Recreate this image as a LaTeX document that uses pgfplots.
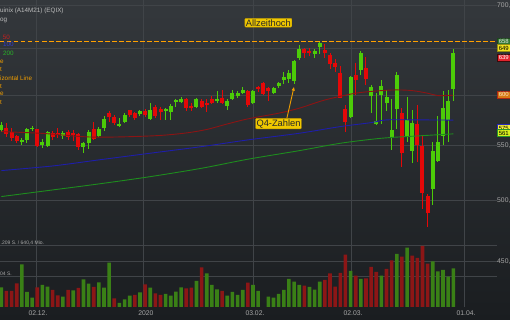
\documentclass[border=0pt]{standalone}
\usepackage{pgfplots}
\usepackage{pgfplotstable}
\pgfplotsset{compat=1.18}
\usetikzlibrary{arrows.meta}
\usepackage{fontspec}
\setmainfont{Liberation Sans}

\definecolor{bgtop}{RGB}{52,56,60}
\definecolor{bgbot}{RGB}{26,29,32}
\definecolor{gridc}{RGB}{64,68,72}
\definecolor{cup}{RGB}{76,204,8}
\definecolor{cdn}{RGB}{228,8,8}
\definecolor{vup}{RGB}{58,128,22}
\definecolor{vdn}{RGB}{140,22,22}
\definecolor{maA}{RGB}{140,20,20}
\definecolor{maB}{RGB}{30,30,170}
\definecolor{maC}{RGB}{30,140,30}
\definecolor{orng}{RGB}{240,158,0}
\definecolor{dashorng}{RGB}{255,160,0}
\definecolor{txtg}{RGB}{168,168,168}
\definecolor{lblyel}{RGB}{240,200,0}

\pgfplotstableread{
k o h l c
0 564.8 572.7 562.9 569.7
4 553.3 557.1 550.4 555.2
5 555.2 566.7 552.3 565.8
6 565.3 568.7 563.8 566.7
8 550.4 556.1 547.6 553.3
9 549.5 563.8 548.5 562.9
12 559.0 563.8 556.1 561.9
16 548.5 553.3 542.9 552.3
17 552.3 564.8 546.6 562.9
19 559.0 567.7 558.1 565.8
20 566.7 578.7 563.8 575.7
23 568.7 576.7 568.2 570.7
24 572.7 581.7 571.7 579.7
27 580.7 584.7 578.7 583.7
29 575.7 591.7 574.7 584.2
32 583.7 586.7 574.7 585.7
33 582.7 590.7 574.7 588.7
34 592.7 595.8 587.7 594.8
35 592.7 597.9 591.7 595.8
38 587.7 596.9 586.7 595.8
42 593.8 604.2 591.7 595.8
44 588.7 595.8 584.7 593.8
45 595.8 605.2 594.8 602.1
46 599.0 604.2 596.9 602.1
47 602.1 608.3 601.0 605.2
49 591.7 605.2 591.2 604.2
53 602.1 608.3 601.0 607.3
54 609.3 613.6 607.3 612.5
55 615.7 624.3 611.4 618.9
56 616.8 626.4 612.5 623.2
57 614.6 637.3 611.4 636.2
58 639.5 654.0 637.3 649.5
61 644.0 649.5 639.5 647.6
62 652.1 657.4 644.0 655.9
68 577.4 620.0 576.7 618.6
70 626.4 647.3 621.1 645.4
72 599.3 610.4 582.0 608.6
73 570.7 602.1 569.7 574.0
74 600.0 615.7 570.7 609.3
75 591.4 605.2 584.0 598.2
76 556.8 595.5 545.7 564.8
77 585.4 624.6 565.5 621.1
79 557.7 598.2 553.6 574.7
80 545.0 584.7 533.9 571.4
84 509.9 553.6 496.3 545.0
85 535.8 578.7 534.8 553.6
86 559.0 604.5 550.4 586.4
87 574.7 605.2 553.6 593.8
88 605.9 649.2 594.1 644.8
}\upcandles

\pgfplotstableread{
k o h l c
1 566.7 571.7 558.1 561.0
2 562.9 566.7 554.3 557.1
3 559.0 560.0 552.3 554.3
7 565.8 566.2 548.5 549.5
10 561.9 563.8 555.2 558.1
11 561.9 566.7 557.1 560.0
13 562.9 564.8 555.2 558.1
14 561.9 564.8 554.3 560.0
15 561.0 561.9 545.7 548.5
18 565.8 572.7 555.2 556.1
21 581.7 583.7 572.7 577.7
22 577.7 579.7 569.7 571.7
25 584.2 584.7 577.7 579.7
26 581.7 582.7 574.7 576.7
28 583.7 585.7 577.7 579.7
30 587.7 589.7 576.7 578.2
31 585.7 587.7 574.7 582.7
36 595.8 596.4 583.7 586.7
37 588.7 591.7 583.7 586.7
39 593.8 595.8 586.7 587.7
40 591.7 595.8 582.7 589.7
41 595.8 599.0 590.7 591.7
43 596.9 605.2 590.7 591.7
48 604.2 605.2 587.7 589.7
50 608.3 609.3 603.1 606.2
51 612.5 613.6 600.0 601.0
52 607.3 608.3 593.8 604.2
59 649.0 650.6 639.5 645.1
60 647.6 650.6 641.8 644.8
63 648.4 655.1 639.5 645.4
64 642.9 645.4 627.5 633.0
65 634.3 638.4 624.6 630.1
66 623.5 630.8 596.9 597.2
67 585.7 589.7 563.2 573.0
69 621.1 634.1 600.0 615.7
71 628.3 640.7 610.4 616.4
78 582.0 586.4 529.7 542.6
81 570.7 589.7 534.8 550.4
82 549.5 559.0 492.7 506.4
83 504.3 505.5 477.6 489.2
}\downcandles

\pgfplotstableread{
k v
0 563.2
8 561.5
15 558.6
19 557.8
25 558.3
31 559.5
36 561.9
40 565.3
44 570.7
48 575.7
54 581.4
58 586.4
63 594.8
69 601.8
74 604.5
77 605.2
80 604.5
83 601.8
85 599.3
88 599.7
}\maFifty

\pgfplotstableread{
k v
0 526.6
10 530.8
19 536.4
29 542.6
39 548.8
48 555.2
58 561.6
66 568.1
72 572.0
75 574.7
81 574.7
88 574.5
}\maHundred

\pgfplotstableread{
k v
0 503.5
10 509.3
19 514.6
29 521.1
39 528.7
48 537.0
58 545.0
66 552.0
74 556.8
81 559.0
88 561.0
}\maTwoHundred

\pgfplotstableread{
k v
0 702
4 1521
5 534
6 331
8 784
9 723
12 367
14 595
16 987
17 830
19 880
20 688
21 1578
23 143
24 274
25 403
27 524
29 688
32 463
33 403
34 545
35 702
38 926
40 1201
41 784
42 631
44 403
45 534
46 428
47 606
49 784
50 570
52 367
53 331
54 463
55 606
56 998
57 901
58 784
60 713
61 616
62 901
68 1283
70 998
74 1115
77 1888
79 2113
84 1628
85 1272
86 1318
87 1080
88 1379
}\volup

\pgfplotstableread{
k v
1 570
2 570
3 844
7 702
10 606
11 417
13 606
15 677
18 713
22 310
26 428
28 809
30 488
31 428
36 666
37 688
39 1414
43 570
48 866
59 759
63 962
64 1201
65 723
66 1211
67 1863
69 1115
71 1023
72 1425
73 1247
75 1354
76 1664
78 1792
80 1828
81 1746
82 2173
83 1543
}\voldown

\pgfplotstableread{
k v
-0.253 658
96.51 658
}\athline

\newcommand\pricetag[5]{\node[fill=#2, draw=#3, text=#4, font=\fontsize{6}{6}\selectfont, inner sep=0.5pt, minimum width=13pt, minimum height=7pt, anchor=west, line width=0.6pt] at (497pt,#1pt) {#5};}

\begin{document}
\begin{tikzpicture}
\path[use as bounding box] (0pt,0pt) rectangle (510pt,320pt);
\clip (0pt,0pt) rectangle (510pt,320pt);
\shade[top color=bgtop, bottom color=bgbot] (0pt,0pt) rectangle (510pt,320pt);

\begin{axis}[
  at={(0pt,13pt)}, anchor=south west, scale only axis,
  width=497pt, height=307pt,
  ymode=log, ymin=416.2, ymax=706.8,
  xmin=-0.253, xmax=96.51,
  axis line style={draw=none}, major tick length=0pt,
  xtick={6.75,27.75,49,68.1,90.1},
  xticklabels={02.12.,2020,03.02.,02.03.,01.04.},
  ytick={450,500,550,600,650,700},
  yticklabels={{450,},{500,},{550,},{},{},{700,}},
  minor ytick={},
  yticklabel pos=right,
  xmajorgrids, ymajorgrids,
  grid style={gridc, line width=0.8pt},
  x tick label style={anchor=center, yshift=-6pt, xshift=2pt, font=\fontsize{6.8}{7}\selectfont, text=txtg},
  y tick label style={anchor=west, inner sep=0pt, xshift=0pt, font=\fontsize{6.8}{7}\selectfont, text=txtg},
  /pgf/number format/assume math mode=true,
]
% wicks
\addplot[draw=none, mark=none, forget plot,
  error bars/.cd, y dir=both, y explicit, error mark=none,
  error bar style={draw=cup, line width=1pt}]
  table[x=k, y=o, y error plus expr=\thisrow{h}-\thisrow{o}, y error minus expr=\thisrow{o}-\thisrow{l}] {\upcandles};
\addplot[draw=none, mark=none, forget plot,
  error bars/.cd, y dir=both, y explicit, error mark=none,
  error bar style={draw=cdn, line width=1pt}]
  table[x=k, y=o, y error plus expr=\thisrow{h}-\thisrow{o}, y error minus expr=\thisrow{o}-\thisrow{l}] {\downcandles};
% bodies
\addplot[draw=none, mark=none, forget plot,
  error bars/.cd, y dir=plus, y explicit, error mark=none,
  error bar style={draw=cup, line width=4pt, line cap=butt}]
  table[x=k, y=o, y error plus expr=\thisrow{c}-\thisrow{o}] {\upcandles};
\addplot[draw=none, mark=none, forget plot,
  error bars/.cd, y dir=plus, y explicit, error mark=none,
  error bar style={draw=cdn, line width=4pt, line cap=butt}]
  table[x=k, y=c, y error plus expr=\thisrow{o}-\thisrow{c}] {\downcandles};
% moving averages
\addplot[maA, line width=0.9pt, smooth, mark=none] table[x=k, y=v] {\maFifty};
\addplot[maB, line width=0.9pt, smooth, mark=none] table[x=k, y=v] {\maHundred};
\addplot[maC, line width=0.9pt, smooth, mark=none] table[x=k, y=v] {\maTwoHundred};
% all-time-high line
\addplot[color=dashorng, line width=1.8pt, dash pattern=on 4.5pt off 2.5pt, line cap=butt, mark=none, forget plot] table[x=k, y=v] {\athline};
% arrow Q4
\draw[orng, line width=0.9pt, -{Latex[length=4pt,width=3.5pt]}] (axis cs:55.6,576.3) -- (axis cs:57.0,608.6);
\end{axis}

\begin{axis}[
  at={(0pt,13pt)}, anchor=south west, scale only axis,
  width=497pt, height=307pt,
  xmin=-0.253, xmax=96.51, ymin=0, ymax=10929,
  axis line style={draw=none}, major tick length=0pt,
  xtick=\empty, ytick={1104,2209}, yticklabel=\empty,
  ymajorgrids, grid style={gridc, line width=0.8pt},
  ybar, bar width=3.6pt, bar shift=0pt,
]
\addplot[fill=vup, draw=none] table[x=k, y=v] {\volup};
\addplot[fill=vdn, draw=none] table[x=k, y=v] {\voldown};
\end{axis}

% legend / header texts
\begin{scope}[every node/.style={anchor=west, inner sep=0pt, font=\fontsize{6.3}{7}\selectfont}]
\node[text={rgb,255:red,190;green,190;blue,190}] at (0pt,309.3pt) {uinix (A14M21) (EQIX)};
\node[text={rgb,255:red,190;green,190;blue,190}] at (0pt,300pt) {og};
\node[text={rgb,255:red,200;green,30;blue,30}] at (2.7pt,282.7pt) {50};
\node[text={rgb,255:red,50;green,60;blue,210}] at (3pt,275.3pt) {100};
\node[text={rgb,255:red,40;green,180;blue,40}] at (3pt,266.7pt) {200};
\node[text=orng] at (0pt,258.3pt) {e};
\node[text=orng] at (0pt,250.3pt) {t};
\node[text=orng] at (0pt,242pt) {izontal Line};
\node[text=orng] at (0pt,234pt) {t};
\node[text=orng] at (0pt,225.7pt) {e};
\node[text=orng] at (0pt,217.7pt) {t};
\node[text=txtg, font=\fontsize{5}{6}\selectfont] at (0.5pt,77.3pt) {.209 S. / 640,4 Mio.};
\node[text=txtg, font=\fontsize{5}{6}\selectfont] at (0pt,46.3pt) {04 S.};
\end{scope}

% annotations
\node[fill=lblyel, draw={rgb,255:red,190;green,150;blue,0}, text={rgb,255:red,40;green,40;blue,40}, font=\fontsize{9.3}{10}\selectfont, inner sep=1pt, rounded corners=1pt] at (268.3pt,297.3pt) {Allzeithoch};
\node[fill=lblyel, draw={rgb,255:red,190;green,150;blue,0}, text={rgb,255:red,40;green,40;blue,40}, font=\fontsize{9.3}{10}\selectfont, inner sep=1pt, rounded corners=1pt] at (278.5pt,196.3pt) {Q4-Zahlen};

% price tags
\pricetag{278.3}{{rgb,255:red,50;green,120;blue,50}}{{rgb,255:red,30;green,70;blue,30}}{{rgb,255:red,230;green,230;blue,230}}{658}
\pricetag{271.7}{{rgb,255:red,240;green,225;blue,30}}{{rgb,255:red,150;green,140;blue,20}}{black}{649}
\pricetag{262.2}{{rgb,255:red,225;green,35;blue,45}}{{rgb,255:red,60;green,10;blue,10}}{white}{639}
\pricetag{225.5}{{rgb,255:red,215;green,120;blue,20}}{{rgb,255:red,170;green,40;blue,20}}{{rgb,255:red,250;green,230;blue,200}}{600}
\pricetag{192}{{rgb,255:red,245;green,240;blue,60}}{{rgb,255:red,40;green,40;blue,190}}{black}{575}
\pricetag{187}{{rgb,255:red,215;green,240;blue,30}}{{rgb,255:red,40;green,150;blue,40}}{black}{561}
\end{tikzpicture}
\end{document}
